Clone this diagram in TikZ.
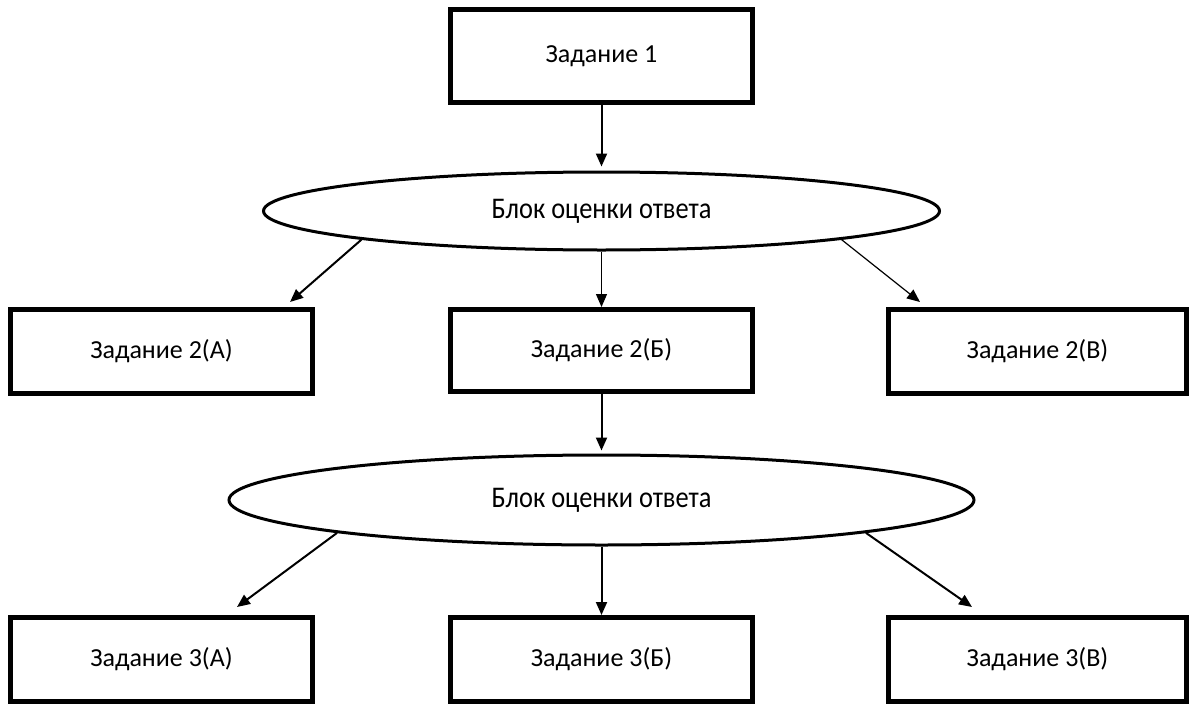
\documentclass[tikz,border=0pt]{standalone}
\usepackage{fontspec}
\setmainfont{Carlito}
\usetikzlibrary{arrows.meta,shapes.geometric,calc}
\tikzset{
  box/.style={draw,line width=5pt,rectangle,minimum width=302pt,minimum height=84pt,inner sep=0pt,font=\fontsize{26}{30}\selectfont},
  oval/.style={draw,line width=3pt,ellipse,inner sep=0pt,font=\fontsize{30}{34}\selectfont},
  arr/.style={line width=2pt,-{Triangle[length=13pt,width=11pt]}},
  tarr/.style={line width=1.2pt,-{Triangle[length=13pt,width=11pt]}}
}
\newcommand{\cond}[1]{\scalebox{0.88}[1]{#1}}
\begin{document}
\begin{tikzpicture}[x=1pt,y=-1pt]
\useasboundingbox (0,0) rectangle (1191,704);
\node[box,minimum height=93pt] (t1) at (601.5,56) {\raisebox{-3pt}{Задание 1}};
\node[oval,minimum width=676pt,minimum height=78pt] (e1) at (601.5,211) {\cond{Блок оценки ответа}};
\node[box] (a2) at (161.5,351.5) {Задание 2(А)};
\node[box,minimum height=82pt] (b2) at (601.5,350.5) {Задание 2(Б)};
\node[box,minimum width=298pt] (v2) at (1037.5,351.5) {Задание 2(В)};
\node[oval,minimum width=745pt,minimum height=90pt] (e2) at (601.5,500) {\cond{Блок оценки ответа}};
\node[box] (a3) at (161.5,659.5) {Задание 3(А)};
\node[box] (b3) at (601.5,659.5) {Задание 3(Б)};
\node[box,minimum width=298pt] (v3) at (1037.5,659.5) {Задание 3(В)};
\draw[arr,shorten >=4pt] ([yshift=5pt]t1.south) -- (e1.north);
\draw[arr] (e1.south west) -- ($(a2.north east)+(-25,-5)$);
\draw[tarr] (e1.south) -- (b2.north);
\draw[tarr] (e1.south east) -- ($(v2.north west)+(34,-5)$);
\draw[arr,shorten >=3pt] ([yshift=4pt]b2.south) -- (e2.north);
\draw[arr] (e2.south west) -- ($(a3.north east)+(-78,-8)$);
\draw[arr] (e2.south) -- (b3.north);
\draw[arr] (e2.south east) -- ($(v3.north west)+(86,-8)$);
\end{tikzpicture}
\end{document}
